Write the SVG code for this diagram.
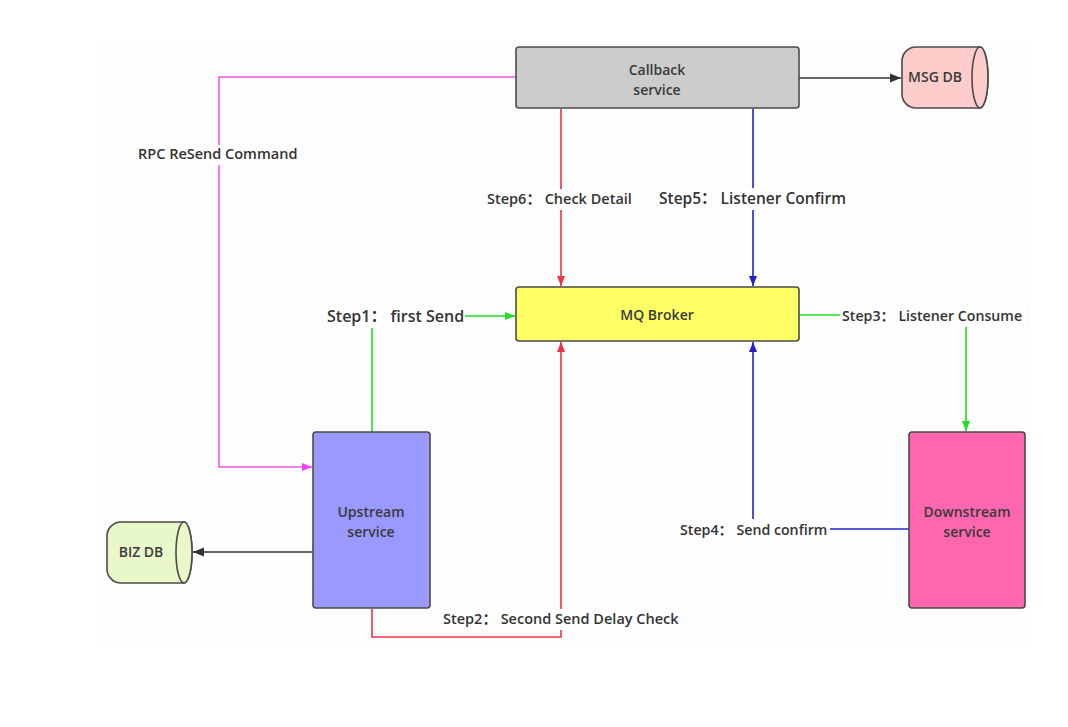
<svg xmlns="http://www.w3.org/2000/svg" width="1068" height="727" viewBox="0 0 1068 727">
<defs>
<style>
.node{stroke:#4a4a4a;stroke-width:1.6}
.nt{font-family:"Open Sans","Liberation Sans","Noto Sans CJK SC",sans-serif;font-weight:600;font-size:14px;fill:#3a3a3a;text-anchor:middle}
.lb{font-family:"Open Sans","Noto Sans CJK SC","Liberation Sans",sans-serif;font-weight:600;font-size:14.5px;fill:#333}
.bg{fill:#ffffff}
.c{fill:none;stroke-width:1.6}
</style>
<marker id="aG" viewBox="0 0 10 10" refX="10" refY="5" markerWidth="10" markerHeight="10" markerUnits="userSpaceOnUse" orient="auto"><path d="M0,1 L10,5 L0,9 z" fill="#22dd22"/></marker>
<marker id="aR" viewBox="0 0 10 10" refX="10" refY="5" markerWidth="10" markerHeight="10" markerUnits="userSpaceOnUse" orient="auto"><path d="M0,1 L10,5 L0,9 z" fill="#ee3344"/></marker>
<marker id="aB" viewBox="0 0 10 10" refX="10" refY="5" markerWidth="10" markerHeight="10" markerUnits="userSpaceOnUse" orient="auto"><path d="M0,1 L10,5 L0,9 z" fill="#2222cc"/></marker>
<marker id="aM" viewBox="0 0 10 10" refX="10" refY="5" markerWidth="10" markerHeight="10" markerUnits="userSpaceOnUse" orient="auto"><path d="M0,1 L10,5 L0,9 z" fill="#ee44ee"/></marker>
<marker id="aK" viewBox="0 0 10 10" refX="10" refY="5" markerWidth="11" markerHeight="11" markerUnits="userSpaceOnUse" orient="auto"><path d="M0,1 L10,5 L0,9 z" fill="#333"/></marker>
</defs>
<rect width="1068" height="727" fill="#ffffff"/>
<rect x="96" y="40" width="934" height="602" fill="#fdfdfd"/>

<g id="connectors">
<path class="c" d="M516,77 H219 V467 H312" stroke="#ee55ee" marker-end="url(#aM)"/>
<path class="c" d="M799,78 H901" stroke="#333" marker-end="url(#aK)"/>
<path class="c" d="M313,552 H193" stroke="#333" marker-end="url(#aK)"/>
<path class="c" d="M561,109 V286" stroke="#ee3344" marker-end="url(#aR)"/>
<path class="c" d="M753,109 V286" stroke="#2222cc" marker-end="url(#aB)"/>
<path class="c" d="M372,432 V316 H515" stroke="#22dd22" marker-end="url(#aG)"/>
<path class="c" d="M799,315 H966 V431" stroke="#22dd22" marker-end="url(#aG)"/>
<path class="c" d="M372,609 V637 H561 V342" stroke="#ee3344" marker-end="url(#aR)"/>
<path class="c" d="M909,529 H753 V342" stroke="#2222cc" marker-end="url(#aB)"/>
<rect class="bg" x="136" y="145" width="165" height="20"/>
<rect class="bg" x="485" y="189" width="151" height="21"/>
<rect class="bg" x="657" y="188" width="192" height="22"/>
<rect class="bg" x="325" y="305" width="140" height="23"/>
<rect class="bg" x="840" y="306" width="186" height="21"/>
<rect class="bg" x="678" y="519" width="152" height="21"/>
<rect class="bg" x="441" y="609" width="240" height="21"/>
<text class="lb" x="138" y="159">RPC ReSend Command</text>
<text class="lb" x="487" y="204">Step6：  Check Detail</text>
<text class="lb" x="659" y="204" style="font-size:15.5px">Step5：  Listener Confirm</text>
<text class="lb" x="327" y="322" style="font-size:16px">Step1：  first Send</text>
<text class="lb" x="842" y="321" style="font-size:14.2px">Step3：  Listener Consume</text>
<text class="lb" x="680" y="535" style="font-size:14.2px">Step4：  Send confirm</text>
<text class="lb" x="443" y="624">Step2：  Second Send Delay Check</text>
</g>

<g id="callback">
<rect class="node" x="516" y="47" width="283" height="61" rx="3" fill="#cccccc"/>
<text class="nt" x="657" y="75">Callback</text>
<text class="nt" x="657" y="95">service</text>
</g>
<g id="msgdb">
<path class="node" d="M916,47 H980 A8,30.5 0 0 1 980,108 H916 A14,14 0 0 1 902,94 V61 A14,14 0 0 1 916,47 z" fill="#ffcccc"/>
<ellipse class="node" cx="980" cy="77.5" rx="8" ry="30.5" fill="#ffcccc"/>
<text class="nt" x="935" y="82">MSG DB</text>
</g>
<g id="mqbroker">
<rect class="node" x="516" y="287" width="283" height="54" rx="3" fill="#ffff66"/>
<text class="nt" x="657" y="320">MQ Broker</text>
</g>
<g id="upstream">
<rect class="node" x="313" y="432" width="117" height="176" rx="3" fill="#9999ff"/>
<text class="nt" x="371" y="517">Upstream</text>
<text class="nt" x="371" y="537">service</text>
</g>
<g id="downstream">
<rect class="node" x="909" y="432" width="116" height="176" rx="3" fill="#ff66b0"/>
<text class="nt" x="967" y="517">Downstream</text>
<text class="nt" x="967" y="537">service</text>
</g>
<g id="bizdb">
<path class="node" d="M121,522 H184 A8,30.5 0 0 1 184,583 H121 A14,14 0 0 1 107,569 V536 A14,14 0 0 1 121,522 z" fill="#e8f8c8"/>
<ellipse class="node" cx="184" cy="552.5" rx="8" ry="30.5" fill="#e8f8c8"/>
<text class="nt" x="141" y="557">BIZ DB</text>
</g>
</svg>
